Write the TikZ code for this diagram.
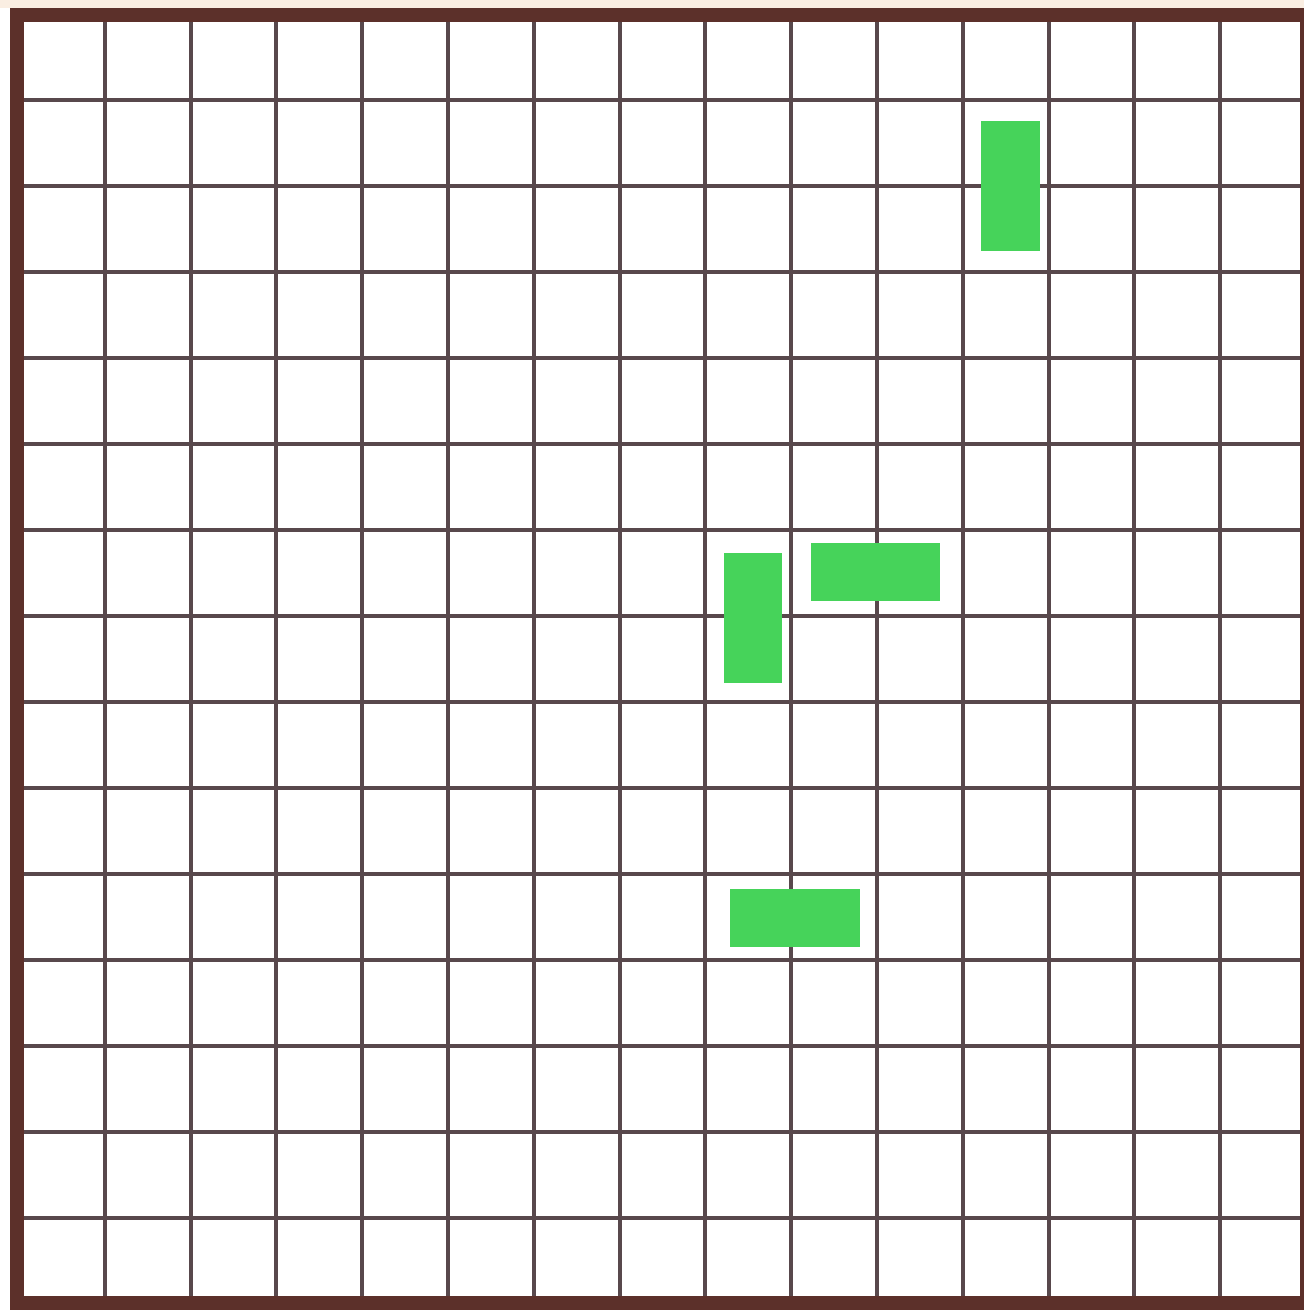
\documentclass[tikz,border=0pt]{standalone}
\usepackage{tikz}
\definecolor{gridline}{RGB}{88,72,76}
\definecolor{frame}{RGB}{92,48,42}
\definecolor{piece}{RGB}{70,211,90}
\definecolor{paper}{RGB}{250,238,226}

\begin{document}
\begin{tikzpicture}[x=0.02cm,y=-0.02cm]
        \def\cellw{85.8}
        \def\cellh{86}
        \useasboundingbox (0,0) rectangle (1304,1312);
        \fill[white] (0,0) rectangle (1304,1312);
        \fill[paper] (0,0) rectangle (1304,8);

        % inner lines of the board
        \foreach \i in {1,...,14} {
            \draw[gridline, line width=2.2pt] ({19+\cellw*\i},15) -- ({19+\cellw*\i},1303);
            \draw[gridline, line width=2.2pt] (17,{14+\cellh*\i}) -- (1302,{14+\cellh*\i});
        }

        % frame
        \draw[frame, line width=8.5pt] (1304,15) -- (17,15) -- (17,1303) -- (1304,1303);
        \draw[frame, line width=1.8pt] (1302,15) -- (1302,1303);

        % green pieces
        \fill[piece] (981,121) rectangle (1040,251);
        \fill[piece] (724,553) rectangle (782,683);
        \fill[piece] (811,543) rectangle (940,601);
        \fill[piece] (730,889) rectangle (860,947);
    \end{tikzpicture}
\end{document}
